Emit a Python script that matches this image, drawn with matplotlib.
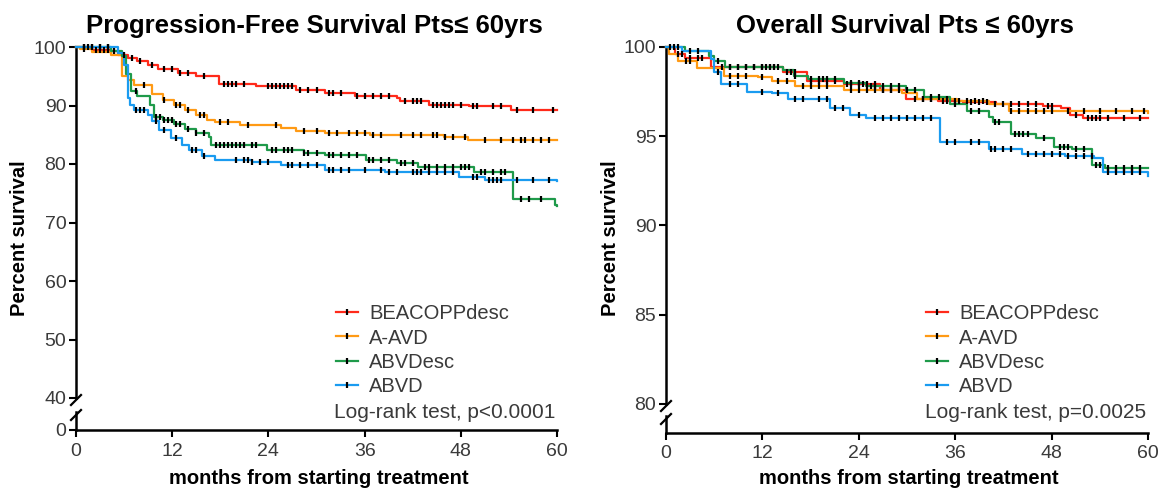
import numpy as np
import matplotlib
matplotlib.use("Agg")
import matplotlib.pyplot as plt
from matplotlib.lines import Line2D

plt.rcParams['font.family'] = ['Liberation Sans', 'DejaVu Sans']

series_names = ["BEACOPPdesc", "A-AVD", "ABVDesc", "ABVD"]
series_colors = ["#ff2a1a", "#ff9a14", "#1f9a4a", "#1a9bf0"]

# ---------------- PFS (left) ----------------
pfs_red_t = [0, 2, 4.4, 5.3, 6.5, 7.6, 9, 10.2, 12.7, 15, 17.8, 22.4, 27.5, 31, 34.8, 40, 40.4, 44, 49, 54.2, 60]
pfs_red_s = [100, 99.5, 99.3, 98.7, 98.2, 97.6, 97.0, 96.2, 95.6, 95.0, 93.7, 93.3, 92.7, 92.1, 91.7, 91.3, 90.7, 90.1, 89.9, 89.3, 89.3]
pfs_red_c = [1, 1.5, 2.5, 3, 3.5, 4, 4.8, 6, 7, 8, 9.5, 11, 12, 13, 14, 16, 18.5, 19, 19.5, 20, 21, 24, 24.5, 25, 25.5, 26,
             26.5, 27, 28, 29, 30, 31.5, 32, 33, 35, 36, 37, 38, 39, 41, 42, 42.5, 43, 44.5, 45, 45.5, 46, 46.5, 47,
             48, 49.5, 50, 52, 53, 55, 57, 59.5]

pfs_org_t = [0, 0.5, 2, 4.4, 5.8, 6.5, 7.2, 9.5, 10.8, 12.2, 13.6, 15, 16.4, 17.3, 20.5, 25.6, 27.5, 31, 36.7, 45.9, 48.9, 60]
pfs_org_s = [100, 99.6, 99.2, 98.7, 95.0, 94.4, 93.5, 91.9, 91.0, 90.1, 89.3, 88.4, 87.6, 87.2, 86.7, 86.1, 85.7, 85.3, 85.0, 84.7, 84.1, 84.1]
pfs_org_c = [1, 8.5, 11, 12.5, 13, 14, 15.5, 16, 18, 19, 21.5, 25, 28.5, 30, 31.5, 32.5, 34, 35, 36, 37, 38, 40.5, 42, 43,
             44.5, 45, 46, 47, 48.5, 51, 53, 54.5, 55.5, 56, 57, 58, 59]

pfs_grn_t = [0, 4.4, 5.8, 6.2, 6.9, 7.6, 9.2, 9.7, 10.8, 12.2, 13.6, 15, 16.6, 16.8, 23.8, 28.4, 31, 36.2, 40, 42.7, 49.6, 54.5, 59.8, 60]
pfs_grn_s = [100, 99.3, 98.5, 95.3, 92.4, 91.6, 90.1, 88.1, 87.6, 86.8, 86.0, 85.3, 84.7, 83.3, 82.4, 81.8, 81.5, 80.7, 80.1, 79.5, 78.7, 74.1, 73.0, 72.8]
pfs_grn_c = [2, 3, 4, 7.5, 10, 10.5, 11, 11.5, 12, 12.5, 13, 14, 15, 16, 17.5, 18, 18.5, 19, 19.5, 20, 20.5, 21, 22, 22.5,
             24.5, 25, 26, 26.5, 27, 28.5, 29, 30, 31.5, 32, 33, 34, 35, 36.5, 37, 38, 39, 40.5, 41, 42, 43.5, 44, 45,
             46, 47, 48, 48.5, 49, 50.5, 51, 52, 53, 53.5, 55.5, 56.5, 58]

pfs_blu_t = [0, 5.3, 6, 6.5, 6.7, 7.2, 9, 9.5, 10.4, 11.8, 13.2, 14.1, 15.7, 17.3, 21.9, 25.6, 31, 38.5, 47.8, 51, 60]
pfs_blu_s = [100, 99.0, 97.0, 91.3, 90.1, 89.3, 88.4, 87.3, 85.8, 84.4, 83.3, 82.4, 81.3, 80.7, 80.3, 79.8, 79.0, 78.6, 77.8, 77.2, 77.1]
pfs_blu_c = [1, 2, 3, 4, 7.5, 8, 8.5, 10, 11, 12.5, 14.5, 15, 16, 20, 21, 21.5, 22, 23, 24, 26.5, 27, 28, 29, 30, 31.5,
             32, 33, 34, 36, 38, 39, 40, 42, 42.5, 43, 44, 45, 46, 47, 49.5, 50, 51.5, 52, 52.5, 53, 55, 57, 59]

# ---------------- OS (right) ----------------
os_red_t = [0, 1.1, 2.4, 5.6, 14.6, 17.5, 22.2, 26.7, 29.9, 33.9, 37, 41.1, 46.9, 49.2, 50.3, 51.9, 60]
os_red_s = [100, 99.6, 99.4, 98.9, 98.6, 98.1, 97.9, 97.6, 97.1, 97.0, 96.9, 96.8, 96.7, 96.6, 96.2, 96.0, 96.0]
os_red_c = [0.5, 1.5, 2, 3, 4, 4.5, 7, 8, 9, 10, 11, 12, 12.5, 13, 13.5, 14, 15, 15.5, 16, 18, 19, 20, 21, 22.5, 23, 24,
            24.5, 25, 26, 27, 28, 29, 31, 32, 33, 34.5, 35, 36, 38, 39, 40, 42, 43, 44, 45, 46, 47.5, 48, 51, 52.5,
            53, 53.5, 54, 55, 57, 59]

os_org_t = [0, 0.4, 1.5, 3.8, 7.2, 11.4, 13.2, 16.1, 22.2, 29.4, 31.2, 36.2, 40.2, 42.7, 60]
os_org_s = [100, 99.6, 99.2, 98.8, 98.4, 98.3, 98.1, 97.8, 97.6, 97.4, 97.1, 97.0, 96.8, 96.4, 96.3]
os_org_c = [2.5, 3, 8, 9, 10, 12, 14, 15, 17, 18, 19, 20, 23, 24, 25, 26, 27, 28, 32, 33, 35, 36.5, 37.5, 38.5, 39.5,
            41, 43, 44, 45, 46, 47, 48, 50, 52, 54, 56, 58, 59.5]

os_grn_t = [0, 2.4, 5.4, 6, 7.4, 14.6, 15.9, 17.7, 22.2, 24.9, 29.9, 32.1, 35.3, 37.5, 40.2, 40.7, 42.9, 46.1, 48.3, 50.6, 53, 54.6, 60]
os_grn_s = [100, 99.8, 99.5, 99.2, 98.9, 98.7, 98.4, 98.2, 98.0, 97.8, 97.6, 97.2, 96.8, 96.4, 96.1, 95.8, 95.1, 94.9, 94.4, 94.3, 93.4, 93.2, 93.2]
os_grn_c = [1, 1.5, 3, 4, 6.5, 8, 9, 10, 11, 12, 13, 13.5, 16, 18, 19, 19.5, 20, 21, 23, 24, 25.5, 26, 27, 28, 29, 30,
            31, 33, 34, 36, 38, 39, 41, 41.5, 43.5, 44, 44.5, 45, 47, 49, 49.5, 50, 51, 52, 53.5, 54, 55, 56, 57, 58, 59]

os_blu_t = [0, 2, 5.6, 6, 6.9, 10.1, 13.2, 15.2, 20.4, 22.9, 24.9, 34.1, 40.2, 44.3, 49.7, 53.3, 54.4, 60]
os_blu_s = [100, 99.8, 99.3, 98.6, 97.9, 97.5, 97.4, 97.1, 96.6, 96.2, 96.0, 94.7, 94.3, 94.0, 93.9, 93.8, 93.0, 92.8]
os_blu_c = [6.5, 8, 9, 12, 14, 16, 17, 19, 20, 21, 22, 24, 26, 27, 28, 29, 30, 31, 32, 33, 35, 36, 38, 39, 40.5, 41,
            42, 43, 45, 46, 47, 48, 49, 50, 51, 52, 53, 55, 56, 57, 58, 59]

x_ticks = [0, 12, 24, 36, 48, 60]

pfs = [(pfs_red_t, pfs_red_s, pfs_red_c), (pfs_org_t, pfs_org_s, pfs_org_c),
       (pfs_grn_t, pfs_grn_s, pfs_grn_c), (pfs_blu_t, pfs_blu_s, pfs_blu_c)]
os_ = [(os_red_t, os_red_s, os_red_c), (os_org_t, os_org_s, os_org_c),
       (os_grn_t, os_grn_s, os_grn_c), (os_blu_t, os_blu_s, os_blu_c)]

W, H = 1161, 492
fig = plt.figure(figsize=(W / 100, H / 100), dpi=100)

def fx(px):
    return px / W

def fy(py):
    return 1 - py / H

TICKCOL = "#3a3a3a"

def style(ax):
    for s in ["top", "right"]:
        ax.spines[s].set_visible(False)
    for s in ["left", "bottom"]:
        ax.spines[s].set_linewidth(1.8)
    ax.tick_params(width=1.5, length=5, labelsize=14, labelcolor=TICKCOL, direction="out", pad=2)
    ax.patch.set_alpha(0)

def draw_panel(x0, x1, ytop, ybreak_top, ylow_top, yaxis, ylim, yticks, lowtick, data, title, ptext):
    ax = fig.add_axes([fx(x0), fy(ybreak_top), fx(x1) - fx(x0), fy(ytop) - fy(ybreak_top)])
    axl = fig.add_axes([fx(x0), fy(yaxis), fx(x1) - fx(x0), fy(ylow_top) - fy(yaxis)])
    style(ax)
    style(axl)
    ax.spines["bottom"].set_visible(False)
    ax.set_xlim(0, 60)
    axl.set_xlim(0, 60)
    ax.set_ylim(*ylim)
    ax.set_yticks(yticks)
    ax.set_xticks([])
    axl.set_ylim(0, 1)
    if lowtick:
        axl.set_yticks([0])
    else:
        axl.set_yticks([])
    axl.set_xticks(x_ticks)
    axl.tick_params(axis="x", pad=4)
    for (t, s, c), col in zip(data, series_colors):
        ax.step(t, s, where="post", color=col, lw=1.6, zorder=3, clip_on=False)
        t_arr = np.asarray(t)
        s_arr = np.asarray(s)
        idx = np.searchsorted(t_arr, c, side="right") - 1
        cy = s_arr[idx]
        ax.plot(c, cy, ls="none", marker="|", color="black", ms=4.5, mew=1.6, zorder=4, clip_on=False)
    # break marks
    for (py0, py1) in [(ybreak_top + 7, ybreak_top - 3), (ylow_top + 8, ylow_top - 2)]:
        fig.add_artist(Line2D([fx(x0 - 5), fx(x0 + 5)], [fy(py0), fy(py1)], color="black", lw=1.6))
    fig.text(fx((x0 + x1) / 2 - 2), fy(26), title, ha="center", va="center",
             fontsize=18.5, fontweight="bold")
    fig.text(fx(x0 - 56), fy(238), "Percent survival", rotation=90, ha="center", va="center",
             fontsize=14.5, fontweight="bold")
    fig.text(fx((x0 + x1) / 2 + 2), fy(478), "months from starting treatment", ha="center", va="center",
             fontsize=14.5, fontweight="bold")
    handles = [Line2D([], [], color=col, lw=1.6, marker="|", markeredgecolor="black", ms=4.5, mew=1.6)
               for col in series_colors]
    fig.legend(handles, series_names, loc="upper left",
               bbox_to_anchor=(fx(x0 + 250), fy(294)), frameon=False, fontsize=14.5,
               handlelength=1.1, handletextpad=0.55, labelspacing=0.27, borderpad=0, numpoints=1,
               labelcolor=TICKCOL)
    fig.text(fx(x1 - 2), fy(412), ptext, ha="right", va="center", fontsize=15, color=TICKCOL)
    return ax, axl

draw_panel(76, 557, 47, 398, 412, 430, (40, 100), [40, 50, 60, 70, 80, 90, 100], True, pfs,
           "Progression-Free Survival Pts\u2264 60yrs", "Log-rank test, p<0.0001")
draw_panel(666, 1148, 47, 404, 416, 433, (80, 100), [80, 85, 90, 95, 100], False, os_,
           "Overall Survival Pts \u2264 60yrs", "Log-rank test, p=0.0025")

fig.savefig("out.png", dpi=100)
